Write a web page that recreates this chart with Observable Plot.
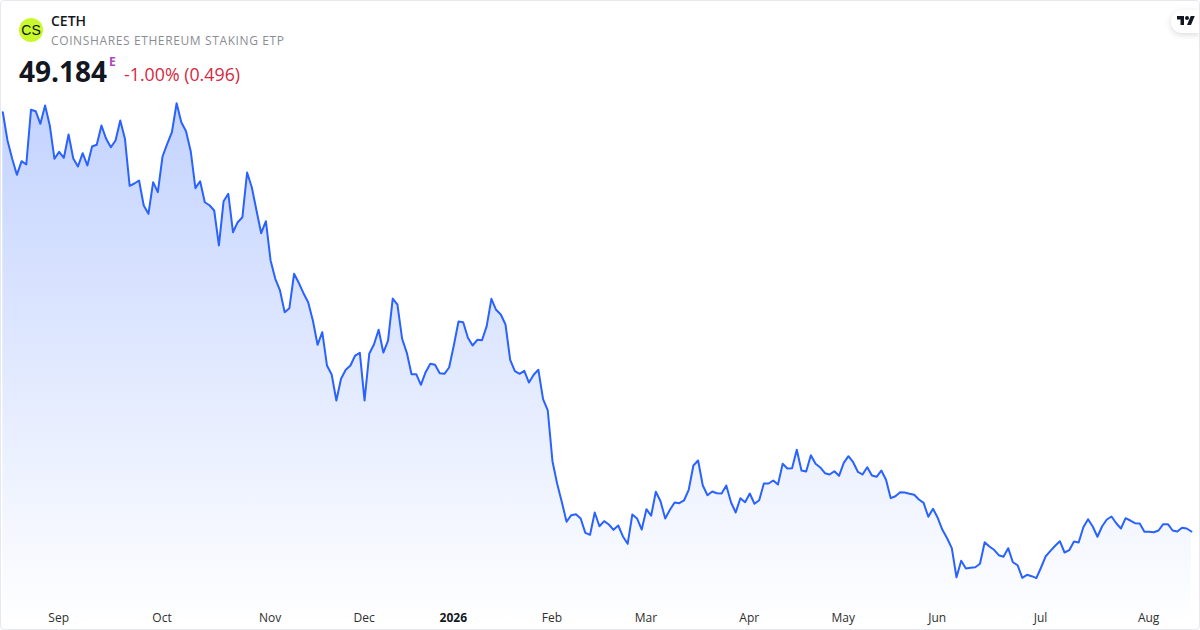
<!DOCTYPE html>
<html><head><meta charset="utf-8">
<script src="https://cdn.jsdelivr.net/npm/d3@7"></script>
<script src="https://cdn.jsdelivr.net/npm/@observablehq/plot@0.6"></script>
<style>
html,body{margin:0;padding:0;background:#fff;width:1200px;height:630px;overflow:hidden}
#wrap{position:relative;width:1200px;height:630px;font-family:"Open Sans","Noto Sans",sans-serif}
#wrap svg.chart{position:absolute;left:0;top:0}
#frame{position:absolute;inset:0;border:1px solid #e6e8ee;border-radius:4px;box-sizing:border-box;pointer-events:none}
.t{position:absolute;white-space:nowrap;line-height:1}
#logo{position:absolute;left:19px;top:18px;width:24px;height:24px;border-radius:50%;background:#c8f92c;color:#111;font-family:"Liberation Sans",sans-serif;font-size:14px;line-height:24px;text-align:center}
#pill{position:absolute;left:1171px;top:10px;width:29px;height:23px;background:#fff;border-radius:11px 0 0 11px;box-shadow:0 2px 6px rgba(0,0,0,.14)}
#pill svg{position:absolute;left:6px;top:4px}
</style></head><body>
<div id="wrap"></div>
<script>
const symbol = "CETH";
const fullName = "COINSHARES ETHEREUM STAKING ETP";
const lastPrice = "49.184";
const change = "-1.00% (0.496)";
const tickIndex = [12,34,57,77,117,137,159,179,199,221,244];
const tickLabels = ["Sep","Oct","Nov","Dec","Feb","Mar","Apr","May","Jun","Jul","Aug"];
const yearIndex = [96];
const yearLabels = ["2026"];
const prices = [
119.06,114.35,111.30,108.63,110.90,110.35,119.46,119.23,117.13,120.18,
116.85,111.30,112.46,111.46,115.35,111.35,110.01,112.23,110.18,113.35,
113.63,116.85,114.63,113.23,114.35,117.68,114.63,106.80,107.18,107.68,
103.51,102.13,107.40,105.73,111.68,113.80,115.73,120.56,117.40,115.90,
112.56,106.40,107.56,104.06,103.56,102.68,96.85,104.23,105.46,99.06,
100.73,101.56,109.01,106.56,102.68,98.90,100.90,94.35,91.30,89.35,
85.73,86.40,92.13,90.63,88.90,87.40,84.35,80.30,82.40,76.85,
75.35,71.01,74.63,76.13,76.85,78.51,78.96,71.01,78.80,80.35,
82.80,79.01,81.01,88.01,87.01,81.30,78.96,75.40,75.40,73.63,
75.73,77.13,76.96,75.56,75.46,76.51,80.18,84.18,84.06,81.46,
80.18,81.13,81.06,83.40,87.96,86.13,85.35,83.68,77.80,75.90,
75.46,75.96,74.01,75.30,76.13,71.23,69.35,60.90,57.13,54.06,
50.80,51.90,52.06,51.35,48.96,48.63,52.35,50.06,50.90,50.35,
49.46,50.18,48.35,47.13,52.01,51.35,49.51,52.90,51.80,55.80,
54.23,51.35,52.80,54.01,53.90,54.35,56.13,60.18,61.01,56.85,
55.23,55.85,55.56,55.51,56.85,54.06,52.35,54.73,54.06,55.51,
53.80,54.40,57.18,57.18,57.68,57.01,60.46,59.68,59.73,62.80,
59.35,59.18,61.90,60.46,59.85,58.90,58.68,59.23,58.46,60.63,
61.73,60.73,59.13,58.68,59.90,58.51,58.30,59.35,57.80,54.73,
55.06,55.73,55.68,55.46,55.30,54.51,53.96,51.63,52.96,51.46,
49.46,48.06,46.40,41.56,44.30,43.01,43.13,43.23,43.80,47.40,
46.68,46.13,45.23,44.96,46.40,44.06,43.56,41.46,41.96,41.73,
41.40,43.18,45.06,45.96,46.80,47.56,45.68,46.06,47.51,47.35,
49.90,51.23,50.01,48.30,50.06,51.18,51.68,50.56,49.68,51.40,
51.01,50.56,50.51,49.13,49.13,49.06,49.35,50.40,50.40,49.35,
49.18,49.80,49.68,49.18
];
const lineColor = "#2962ff";
const rows = prices.map((p,i)=>({i,p}));
const ticks = tickIndex.map((i,k)=>({i,label:tickLabels[k]}));
const years = yearIndex.map((i,k)=>({i,label:yearLabels[k]}));
const axisFloor = 32.68;

const gradient = () => {
  const defs = d3.create("svg:defs");
  const g = defs.append("linearGradient").attr("id","fade")
    .attr("gradientUnits","userSpaceOnUse").attr("x1",0).attr("x2",0).attr("y1",100).attr("y2",625);
  g.append("stop").attr("offset","0%").attr("stop-color",lineColor).attr("stop-opacity",0.28);
  g.append("stop").attr("offset","100%").attr("stop-color",lineColor).attr("stop-opacity",0.0);
  return defs.node();
};

const chart = Plot.plot({
  width:1200,height:630,margin:0,
  style:{background:"transparent",fontFamily:'"Open Sans","Noto Sans",sans-serif'},
  className:"chart",
  x:{type:"linear",domain:[0,253],range:[2.3,1190.9],axis:null},
  y:{type:"linear",domain:[32.68,137.68],range:[630,0],axis:null},
  marks:[
    gradient,
    Plot.areaY(rows,{x:"i",y1:axisFloor,y2:"p",fill:"url(#fade)",curve:"linear"}),
    Plot.lineY(rows,{x:"i",y:"p",stroke:lineColor,strokeWidth:2,curve:"linear",strokeLinejoin:"round"}),
    Plot.text(ticks,{x:"i",text:"label",frameAnchor:"bottom",dy:-9,dx:-0.5,fontSize:12,fill:"#2e2e2e",lineAnchor:"bottom"}),
    Plot.text(years,{x:"i",text:"label",frameAnchor:"bottom",dy:-9,dx:-0.5,fontSize:12,fontWeight:700,fill:"#131722",lineAnchor:"bottom"})
  ]
});
chart.classList.add("chart");
const wrap = document.getElementById("wrap");
wrap.appendChild(chart);

function addText(txt,left,top,css){
  const d=document.createElement("div");d.className="t";d.textContent=txt;
  d.style.left=left+"px";d.style.top=top+"px";d.style.cssText+=";"+css;wrap.appendChild(d);
}
const logo=document.createElement("div");logo.id="logo";logo.textContent="CS";wrap.appendChild(logo);
addText(symbol,51,14,"font-size:14px;font-weight:600;color:#131722");
addText(fullName,51,35,"font-size:12px;color:#8a8d94;letter-spacing:.62px");
addText(lastPrice,19,57,"font-size:28px;font-weight:700;color:#131722");
addText("E",109,56,"font-size:12px;font-weight:700;color:#ab47bc");
addText(change,124,66,"font-size:17.8px;color:#d5293f");
const pill=document.createElement("div");pill.id="pill";
pill.innerHTML='<svg width="18" height="14" viewBox="0 0 36 28"><path fill="#131722" d="M14 22H7V11H0V4h14v18zM28 22h-8l7.5-18h8L28 22z"/><circle fill="#131722" cx="20" cy="8" r="4"/></svg>';
wrap.appendChild(pill);
const frame=document.createElement("div");frame.id="frame";wrap.appendChild(frame);
</script>
</body></html>
